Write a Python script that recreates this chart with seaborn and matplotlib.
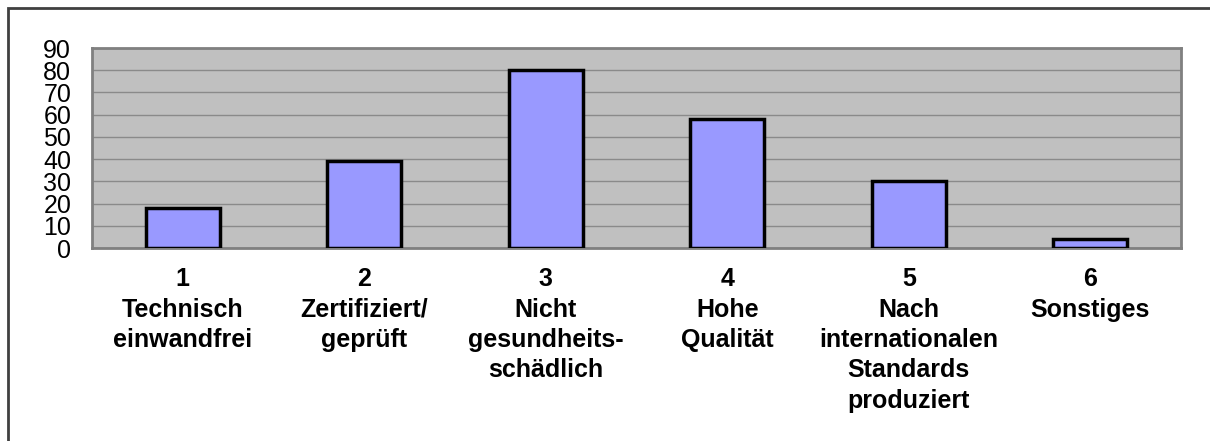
import matplotlib
matplotlib.use("Agg")
import matplotlib.pyplot as plt
import seaborn as sns
import pandas as pd
from matplotlib.patches import Rectangle

# Data
categories = ["1\nTechnisch\neinwandfrei", "2\nZertifiziert/\ngeprüft",
              "3\nNicht\ngesundheits-\nschädlich", "4\nHohe\nQualität",
              "5\nNach\ninternationalen\nStandards\nproduziert", "6\nSonstiges"]
values = [18, 39, 80, 58, 30, 4]
yticks = [0, 10, 20, 30, 40, 50, 60, 70, 80, 90]

df = pd.DataFrame({"cat": categories, "val": values})

sns.set_style("white")
plt.rcParams["font.family"] = ["Liberation Sans", "DejaVu Sans"]

fig = plt.figure(figsize=(12.1, 4.41), dpi=100)
ax = fig.add_axes([92 / 1210, 1 - 248 / 441, 1089 / 1210, 200 / 441])
ax.set_facecolor("#c0c0c0")

sns.barplot(data=df, x="cat", y="val", color="#9999ff", saturation=1,
            edgecolor="black", linewidth=2.5, width=0.41, ax=ax, zorder=3)

ax.set_xlim(-0.5, len(categories) - 0.5)
ax.set_ylim(0, 90)
ax.set_yticks(yticks)
ax.set_yticklabels([str(t) for t in yticks], fontsize=18, color="black")
ax.yaxis.grid(True, color="#8a8a8a", linewidth=1)
ax.set_axisbelow(True)
ax.set_xlabel("")
ax.set_ylabel("")

# labels at centers, tick marks at category boundaries
ax.tick_params(axis="x", which="major", length=0, pad=14, labelsize=18,
               labelcolor="black")
ax.set_xticks([i - 0.5 for i in range(len(categories) + 1)], minor=True)
ax.tick_params(axis="x", which="minor", length=9, width=1, color="#d0d0d0")
ax.tick_params(axis="y", length=6, width=1, color="#a0a0a0", pad=9)
for lbl in ax.get_xticklabels():
    lbl.set_linespacing(1.33)
    lbl.set_fontweight("bold")

for s in ax.spines.values():
    s.set_visible(True)
    s.set_color("#808080")
    s.set_linewidth(2)

# outer frame
fig.patches.append(Rectangle((8 / 1210, -0.05), 1.1, 1 - 8 / 441 + 0.05,
                             transform=fig.transFigure, fill=False,
                             edgecolor="#404040", linewidth=2))

fig.savefig("out.png", dpi=100)
